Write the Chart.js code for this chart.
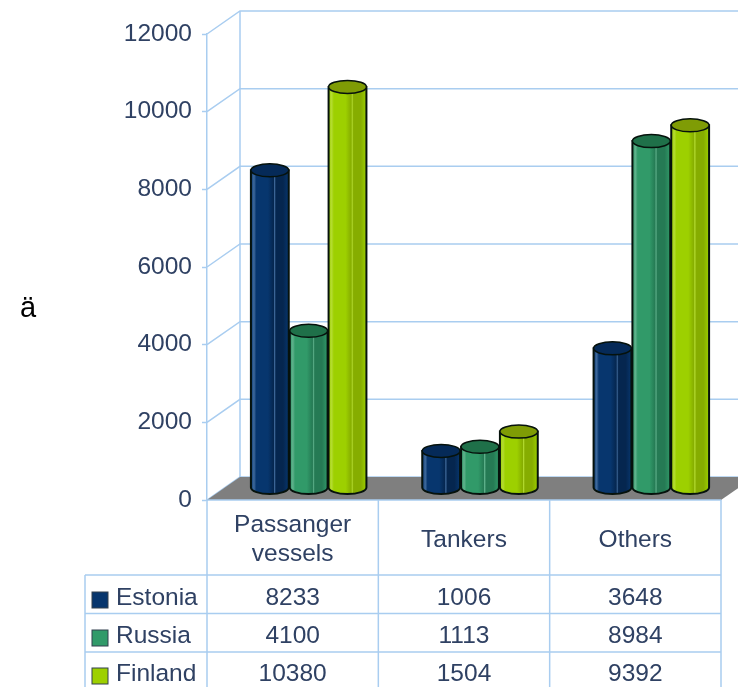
<!DOCTYPE html>
<html>
<head>
<meta charset="utf-8">
<title>Vessels</title>
<script src="https://cdn.jsdelivr.net/npm/chart.js@4/dist/chart.umd.min.js"></script>
<style>
    html, body { margin: 0; padding: 0; background: #fff; }
    #wrap { width: 738px; height: 687px; overflow: hidden; }
</style>
</head>
<body>
<div id="wrap"><canvas id="vesselChart" width="738" height="687"></canvas></div>
<script>
const categories = [['Passanger', 'vessels'], ['Tankers'], ['Others']];
const seriesNames = ['Estonia', 'Russia', 'Finland'];
const estonia = [8233, 1006, 3648];
const russia = [4100, 1113, 8984];
const finland = [10380, 1504, 9392];
const seriesValues = [estonia, russia, finland];
const axisTitle = 'ä';

const lineColor = '#a9cdf0';
const textColor = '#2f4163';
const fontName = '"Liberation Sans", Arial, sans-serif';
const fontSize = 24.5;
// colours: side, highlight, shadow, top cap
const shades = [
    { side: '#07366e', light: '#3f6a9c', dark: '#05264f', cap: '#052a58' },
    { side: '#319a69', light: '#5fb28c', dark: '#257a54', cap: '#1f7049' },
    { side: '#9dd000', light: '#b4dc30', dark: '#86ad00', cap: '#7f9c05' }
];

// how far the 3d box goes back
const depthX = 33;
const depthY = -23;
const barShiftX = 16;
const barShiftY = -10;
const baseShiftY = -12;
const capRadius = 6.5;

class CylinderController extends Chart.BarController {
    draw() {
        const ctx = this.chart.ctx;
        const shade = shades[this.index];
        this.getMeta().data.forEach(bar => {
            const half = bar.width / 2 - 0.5;
            const cx = bar.x + barShiftX;
            const top = bar.y + barShiftY;
            const bottom = bar.base + baseShiftY;
            const grad = ctx.createLinearGradient(cx - half, 0, cx + half, 0);
            grad.addColorStop(0, shade.side);
            grad.addColorStop(0.08, shade.light);
            grad.addColorStop(0.14, shade.side);
            grad.addColorStop(0.45, shade.side);
            grad.addColorStop(0.6, shade.dark);
            grad.addColorStop(0.62, shade.light);
            grad.addColorStop(0.66, shade.dark);
            grad.addColorStop(0.85, shade.dark);
            grad.addColorStop(1, shade.side);

            ctx.save();
            ctx.beginPath();
            ctx.moveTo(cx - half, top);
            ctx.lineTo(cx - half, bottom);
            ctx.ellipse(cx, bottom, half, capRadius, 0, Math.PI, 0, true);
            ctx.lineTo(cx + half, top);
            ctx.closePath();
            ctx.fillStyle = grad;
            ctx.strokeStyle = '#06120c';
            ctx.lineWidth = 2;
            ctx.fill();
            ctx.stroke();

            ctx.beginPath();
            ctx.ellipse(cx, top, half, capRadius, 0, 0, Math.PI * 2);
            ctx.fillStyle = shade.cap;
            ctx.fill();
            ctx.lineWidth = 1.5;
            ctx.stroke();
            ctx.restore();
        });
    }
}
CylinderController.id = 'cylinder';
CylinderController.defaults = Chart.BarController.defaults;
Chart.register(CylinderController);

const boxPlugin = {
    id: 'box',
    beforeDatasetsDraw(chart) {
        const ctx = chart.ctx;
        const area = chart.chartArea;
        const yScale = chart.scales.y;
        ctx.save();
        ctx.strokeStyle = lineColor;
        ctx.lineWidth = 1.5;

        // oblique part and back wall of each gridline
        yScale.ticks.forEach(tick => {
            const y = yScale.getPixelForValue(tick.value);
            ctx.beginPath();
            ctx.moveTo(area.left, y);
            ctx.lineTo(area.left + depthX, y + depthY);
            ctx.lineTo(chart.width, y + depthY);
            ctx.stroke();
        });
        ctx.beginPath();
        ctx.moveTo(area.left + depthX, area.bottom + depthY);
        ctx.lineTo(area.left + depthX, area.top + depthY);
        ctx.stroke();

        // floor
        ctx.beginPath();
        ctx.moveTo(area.left, area.bottom);
        ctx.lineTo(area.right, area.bottom);
        ctx.lineTo(area.right + depthX, area.bottom + depthY);
        ctx.lineTo(area.left + depthX, area.bottom + depthY);
        ctx.closePath();
        ctx.fillStyle = '#7f7f7f';
        ctx.fill();
        ctx.restore();
    },
    afterDraw(chart) {
        const ctx = chart.ctx;
        const area = chart.chartArea;
        const xScale = chart.scales.x;
        const tableLeft = 85;
        const headerBottom = 575;
        const rowHeight = 38.5;
        const colWidth = xScale.getPixelForValue(1) - xScale.getPixelForValue(0);

        ctx.save();
        ctx.strokeStyle = lineColor;
        ctx.lineWidth = 1.5;
        ctx.beginPath();
        ctx.moveTo(area.left, area.bottom);
        ctx.lineTo(area.right, area.bottom);
        for (let i = 0; i <= categories.length; i++) {
            const x = area.left + colWidth * i;
            ctx.moveTo(x, area.bottom);
            ctx.lineTo(x, chart.height);
        }
        for (let i = 0; i < seriesNames.length; i++) {
            const y = headerBottom + rowHeight * i;
            ctx.moveTo(tableLeft, y);
            ctx.lineTo(area.right, y);
        }
        ctx.moveTo(tableLeft, headerBottom);
        ctx.lineTo(tableLeft, chart.height);
        ctx.stroke();

        ctx.font = fontSize + 'px ' + fontName;
        ctx.fillStyle = textColor;
        ctx.textAlign = 'center';
        ctx.textBaseline = 'middle';

        // category names
        categories.forEach((lines, i) => {
            const x = xScale.getPixelForValue(i);
            const start = 540 - (lines.length - 1) * 14.5;
            lines.forEach((line, j) => ctx.fillText(line, x, start + j * 29));
        });

        // table rows with colour keys
        seriesNames.forEach((name, s) => {
            const y = headerBottom + 23 + 38 * s;
            ctx.fillStyle = shades[s].side;
            ctx.strokeStyle = '#33404f';
            ctx.lineWidth = 1;
            ctx.fillRect(92, y - 6, 16, 16);
            ctx.strokeRect(92, y - 6, 16, 16);
            ctx.fillStyle = textColor;
            ctx.textAlign = 'left';
            ctx.fillText(name, 116, y);
            ctx.textAlign = 'center';
            seriesValues[s].forEach((value, i) => {
                ctx.fillText(String(value), xScale.getPixelForValue(i), y);
            });
        });

        ctx.font = '29px ' + fontName;
        ctx.fillStyle = '#000';
        ctx.fillText(axisTitle, 28, 309);
        ctx.restore();
    }
};

new Chart(document.getElementById('vesselChart').getContext('2d'), {
    data: {
        labels: categories,
        datasets: seriesNames.map((name, s) => ({
            type: 'cylinder',
            label: name,
            data: seriesValues[s],
            backgroundColor: shades[s].side,
            categoryPercentage: 0.68,
            barPercentage: 1
        }))
    },
    options: {
        responsive: false,
        animation: false,
        layout: { padding: { top: 34, right: 17, left: 0, bottom: 0 } },
        plugins: {
            legend: { display: false },
            tooltip: { enabled: false }
        },
        scales: {
            x: {
                type: 'category',
                offset: true,
                grid: { display: false },
                border: { display: false },
                ticks: { display: false },
                afterFit(scale) { scale.height = 187; }
            },
            y: {
                type: 'linear',
                min: 0,
                max: 12000,
                afterFit(scale) { scale.width = 207; },
                grid: { drawOnChartArea: false, tickLength: 5, tickColor: lineColor, tickWidth: 1.5 },
                border: { color: lineColor, width: 1.5 },
                ticks: {
                    stepSize: 2000,
                    padding: 10,
                    color: textColor,
                    font: { family: fontName, size: fontSize },
                    callback: value => String(value)
                }
            }
        }
    },
    plugins: [boxPlugin]
});
</script>
</body>
</html>
